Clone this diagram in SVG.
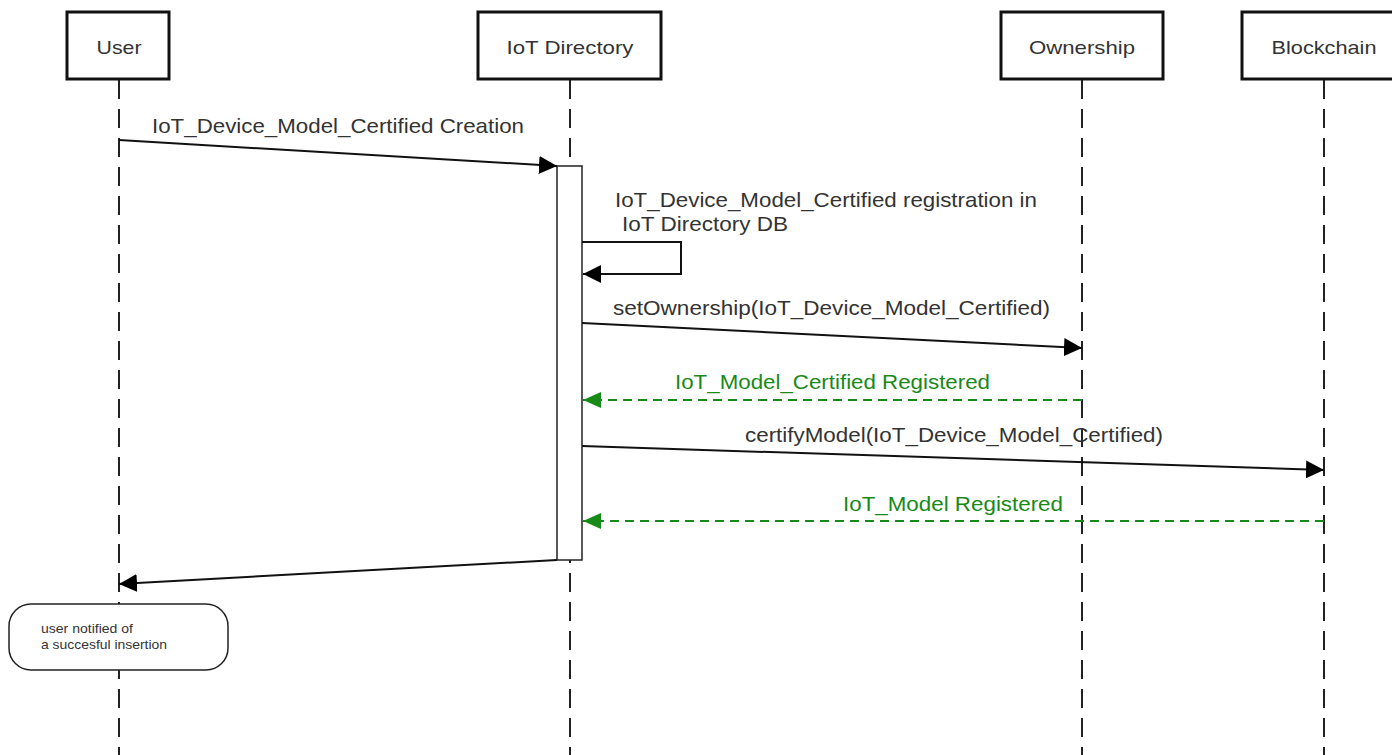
<svg xmlns="http://www.w3.org/2000/svg" width="1392" height="755" viewBox="0 0 1392 755">
<defs>
<marker id="ah" markerWidth="18" markerHeight="18" refX="18" refY="9" orient="auto" markerUnits="userSpaceOnUse"><path d="M0,0 L18,9 L0,18 Z" fill="#000"/></marker>
<marker id="ahg" markerWidth="18" markerHeight="18" refX="18" refY="9" orient="auto" markerUnits="userSpaceOnUse"><path d="M0,1 L18,9 L0,17 Z" fill="#178a17"/></marker>
</defs>
<style>
.box{fill:#fff;stroke:#111;stroke-width:3}
.hd{font-family:"Liberation Sans",Arial,sans-serif;font-size:19px;fill:#333;text-anchor:middle}
.life{stroke:#222;stroke-width:2;stroke-dasharray:19,10;fill:none}
.msg{stroke:#111;stroke-width:2;fill:none;marker-end:url(#ah)}
.ret{stroke:#178a17;stroke-width:2;stroke-dasharray:9,6;fill:none;marker-end:url(#ahg)}
.lbl{font-family:"Liberation Sans",Arial,sans-serif;font-size:21px;fill:#333}
.glbl{font-family:"Liberation Sans",Arial,sans-serif;font-size:21px;fill:#178a17}
.note{fill:#fff;stroke:#222;stroke-width:1.5}
.nt{font-family:"Liberation Sans",Arial,sans-serif;font-size:13px;fill:#333}
</style>
<rect width="1392" height="755" fill="#fff"/>
<g id="lifelines">
<line class="life" x1="119" y1="80" x2="119" y2="755"/>
<line class="life" x1="570" y1="80" x2="570" y2="755"/>
<line class="life" x1="1082" y1="80" x2="1082" y2="755"/>
<line class="life" x1="1324" y1="80" x2="1324" y2="755"/>
</g>
<g id="user"><rect class="box" x="67" y="12" width="102" height="67"/><text class="hd" x="119" y="54" textLength="45" lengthAdjust="spacingAndGlyphs">User</text></g>
<g id="iotdir"><rect class="box" x="478" y="12" width="183" height="67"/><text class="hd" x="570" y="54" textLength="127" lengthAdjust="spacingAndGlyphs">IoT Directory</text></g>
<g id="ownership"><rect class="box" x="1001" y="12" width="162" height="67"/><text class="hd" x="1082" y="54" textLength="106" lengthAdjust="spacingAndGlyphs">Ownership</text></g>
<g id="blockchain"><rect class="box" x="1242" y="12" width="166" height="67"/><text class="hd" x="1324" y="54" textLength="105" lengthAdjust="spacingAndGlyphs">Blockchain</text></g>
<g id="activation"><rect x="557" y="166" width="25" height="394" fill="#fff" stroke="#222" stroke-width="1.5"/></g>
<g id="connectors">
<line class="msg" x1="119" y1="140" x2="557" y2="166"/>
<text class="lbl" x="152" y="133" textLength="372" lengthAdjust="spacingAndGlyphs">IoT_Device_Model_Certified Creation</text>
<polyline class="msg" points="582,242 681,242 681,274 583,274"/>
<text class="lbl" x="615" y="207" textLength="422" lengthAdjust="spacingAndGlyphs">IoT_Device_Model_Certified registration in</text>
<text class="lbl" x="622" y="231" textLength="166" lengthAdjust="spacingAndGlyphs">IoT Directory DB</text>
<line class="msg" x1="582" y1="323" x2="1082" y2="348"/>
<text class="lbl" x="613" y="315" textLength="437" lengthAdjust="spacingAndGlyphs">setOwnership(IoT_Device_Model_Certified)</text>
<line class="ret" x1="1082" y1="400" x2="583" y2="400"/>
<text class="glbl" x="675" y="389" textLength="315" lengthAdjust="spacingAndGlyphs">IoT_Model_Certified Registered</text>
<line class="msg" x1="582" y1="446" x2="1324" y2="470"/>
<text class="lbl" x="745" y="442" textLength="418" lengthAdjust="spacingAndGlyphs">certifyModel(IoT_Device_Model_Certified)</text>
<line class="ret" x1="1324" y1="521" x2="583" y2="521"/>
<text class="glbl" x="843" y="511" textLength="220" lengthAdjust="spacingAndGlyphs">IoT_Model Registered</text>
<line class="msg" x1="557" y1="560" x2="119" y2="584"/>
</g>
<g id="note"><rect class="note" x="9" y="604" width="219" height="66" rx="22" ry="22"/>
<text class="nt" x="41" y="633" textLength="92" lengthAdjust="spacingAndGlyphs">user notified of</text>
<text class="nt" x="41" y="649" textLength="126" lengthAdjust="spacingAndGlyphs">a succesful insertion</text></g>
</svg>
